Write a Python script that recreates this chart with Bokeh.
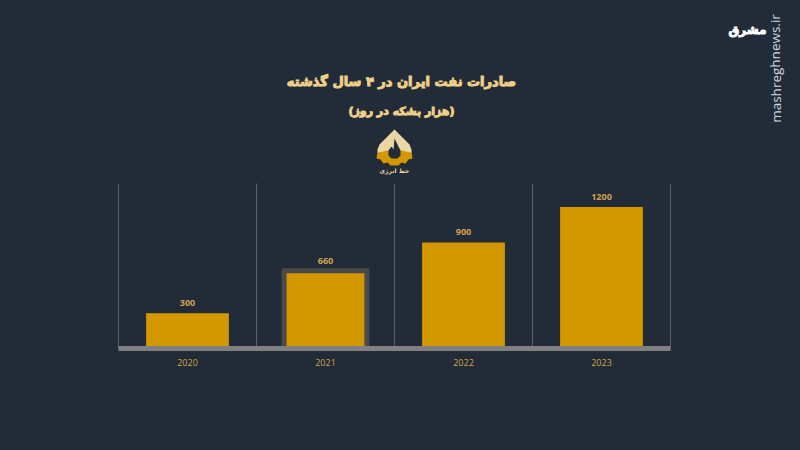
from bokeh.plotting import figure
from bokeh.embed import file_html
from bokeh.resources import INLINE
from bokeh.models import Range1d, FixedTicker, Label, PolyAnnotation, ColumnDataSource

years = ["2020", "2021", "2022", "2023"]
exports = [300, 660, 900, 1200]
highlighted = [False, True, False, False]
title = "صادرات نفت ایران در ۴ سال گذشته"
subtitle = "(هزار بشکه در روز)"
logo_text = "خط انرژی"
brand = "مشرق"
site = "mashreghnews.ir"

BG = "#222b38"
BAR = "#d39700"
GOLD = "#f0cf87"
LABEL = "#d2a348"
W, H = 800, 450

# the frame fills the page; the chart's own area is placed by the ranges
LEFT, SLOT = 118, 138
BASE, PX_PER_UNIT = 348, 165 / 1400
Y_TOP = 1400

slots = list(range(len(years)))
edges = slots + [len(years)]
src = ColumnDataSource(dict(
    x=[i + 0.5 for i in slots],
    top=exports,
    text=[str(v) for v in exports],
    line=["#4a4a4a" if h else BAR for h in highlighted],
    lw=[5 if h else 0 for h in highlighted],
))

p = figure(width=W, height=H, output_backend="svg", toolbar_location=None,
           x_range=Range1d(-LEFT / SLOT, (W - LEFT) / SLOT),
           y_range=Range1d(-(H - BASE) / PX_PER_UNIT, BASE / PX_PER_UNIT),
           min_border=0, background_fill_color=BG, border_fill_color=BG, outline_line_color=None)

p.segment(x0=edges, x1=edges, y0=[0] * len(edges), y1=[Y_TOP] * len(edges),
          line_color="#59616d", line_width=1)
p.vbar(x="x", top="top", bottom=0, width=0.6, source=src, fill_color=BAR,
       line_color="line", line_width="lw", line_join="miter")
p.text(x="x", y="top", text="text", source=src, text_align="center", text_baseline="bottom",
       text_color=LABEL, text_font_size="9px", text_font_style="bold", y_offset=-7,
       text_font={"value": "Open Sans"})

p.yaxis.visible = False
p.grid.visible = False

ax = p.xaxis[0]
ax.fixed_location = 0
ax.bounds = (0, len(years))
ax.ticker = FixedTicker(ticks=[i + 0.5 for i in slots])
ax.major_label_overrides = {i + 0.5: y for i, y in zip(slots, years)}
ax.major_tick_line_color = None
ax.minor_tick_line_color = None
ax.axis_line_color = "#808080"
ax.axis_line_width = 5
ax.major_label_text_color = LABEL
ax.major_label_text_font = "Open Sans"
ax.major_label_text_font_size = "9px"
ax.major_label_standoff = 4


def txt(s, x, y, size, color, bold=True, font="DejaVu Sans", angle=0, outline=None):
    p.add_layout(Label(x=x, y=H - y, x_units="screen", y_units="screen", text=s,
                       text_font=font, text_font_size=size, text_color=color,
                       text_outline_color=outline,
                       text_font_style="bold" if bold else "normal",
                       text_align="center", text_baseline="middle", angle=angle))


txt(title, 401, 81, "13px", GOLD, outline=GOLD)
txt(subtitle, 401, 111, "11px", GOLD, outline=GOLD)
txt(brand, 747, 29, "12px", "#ffffff", outline="#ffffff")
txt(site, 775, 68, "13.5px", "#d5d9de", bold=False, font="Open Sans", angle=1.5708)


# emblem above the chart
def poly(xs, ys, color):
    p.add_layout(PolyAnnotation(xs=xs, ys=[H - v for v in ys],
                                xs_units="screen", ys_units="screen",
                                fill_color=color, fill_alpha=1, line_color=None))


poly([394, 402, 409, 411, 411, 377, 377, 379, 386], [129, 137, 144, 149, 153, 153, 149, 144, 137], "#ebd6a6")
poly([377, 383, 386, 402, 405, 411, 412, 408, 405, 401, 398, 390, 387, 383, 380, 376],
     [152, 151, 150, 150, 151, 152, 158, 159, 163, 162, 165, 165, 162, 163, 159, 158], "#d39700")
poly([394, 398, 400, 400, 397, 391, 388, 388, 391, 393], [138, 146, 150, 155, 158, 158, 155, 150, 146, 149], "#222b38")
txt(logo_text, 394, 170, "6px", "#ebd6a6")

html = file_html(p, INLINE)
html = html.replace("<head>", f"<head><style>html,body{{margin:0;background:{BG};overflow:hidden}}</style>", 1)
open("out.html", "w").write(html)
